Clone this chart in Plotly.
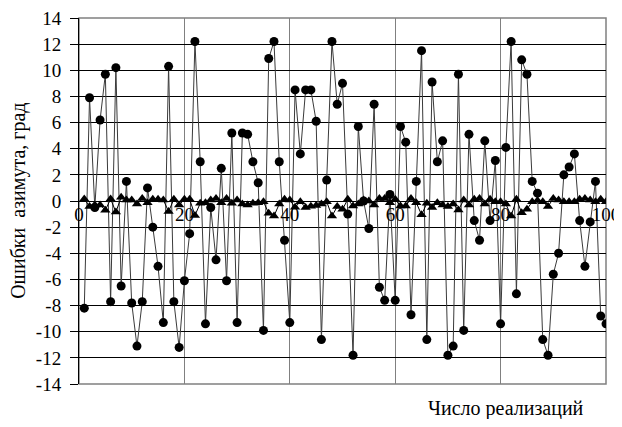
import plotly.graph_objects as go

realizations = list(range(1, 101))

errors_circle = [
    -8.2, 7.9, -0.5, 6.2, 9.7, -7.7, 10.2, -6.5, 1.5, -7.8,
    -11.1, -7.7, 1.0, -2.0, -5.0, -9.3, 10.3, -7.7, -11.2, -6.1,
    -2.5, 12.2, 3.0, -9.4, -0.5, -4.5, 2.5, -6.1, 5.2, -9.3,
    5.2, 5.1, 3.0, 1.4, -9.9, 10.9, 12.2, 3.0, -3.0, -9.3,
    8.5, 3.6, 8.5, 8.5, 6.1, -10.6, 1.6, 12.2, 7.4, 9.0,
    -1.0, -11.8, 5.7, 0.0, -2.1, 7.4, -6.6, -7.6, 0.5, -7.6,
    5.7, 4.5, -8.7, 1.5, 11.5, -10.6, 9.1, 3.0, 4.6, -11.8,
    -11.1, 9.7, -9.9, 5.1, -1.5, -3.0, 4.6, -1.5, 3.1, -9.4,
    4.1, 12.2, -7.1, 10.8, 9.7, 1.5, 0.6, -10.6, -11.8, -5.6,
    -4.0, 2.0, 2.6, 3.6, -1.5, -5.0, -1.6, 1.5, -8.8, -9.4,
]

errors_triangle = [
    0.15, -0.43, -0.3, -0.3, -0.7, 0.15, -0.84, 0.28, 0.08, 0.08,
    -0.23, 0.2, -0.13, 0.13, 0.13, 0.08, -0.8, 0.13, -0.3, 0.13,
    0.13, -1.1, -0.18, -0.13, 0.08, 0.2, -0.13, 0.2, -0.18, 0.08,
    -0.23, -0.3, -0.18, -0.13, -0.05, -0.94, -1.15, -0.23, 0.13, 0.08,
    -0.48, -0.05, -0.5, -0.4, -0.35, -0.23, -0.05, -1.15, -0.43, -0.64,
    0.13, -0.38, -0.23, 0.08, 0.0, -0.3, 0.2, 0.2, -0.13, 0.13,
    -0.38, -0.38, 0.2, -0.13, -1.05, -0.18, -0.5, -0.13, -0.3, -0.43,
    -0.23, -0.69, 0.08, -0.3, 0.13, 0.2, -0.23, 0.13, -0.05, -0.05,
    -0.23, -1.15, 0.13, -0.9, -0.64, -0.05, 0.03, -0.05, -0.43, 0.2,
    0.08, -0.05, -0.05, -0.05, 0.13, 0.2, 0.08, -0.05, 0.13, -0.05,
]

y_tickvals = list(range(-14, 15, 2))
y_ticktext = [str(v) for v in y_tickvals]
x_tickvals = [0, 20, 40, 60, 80, 100]
x_ticktext = [str(v) for v in x_tickvals]

y_title = "Ошибки\u00a0\u00a0азимута, град"
x_title = "Число реализаций"

FONT = "Liberation Serif, DejaVu Serif, serif"

fig = go.Figure()
fig.add_trace(go.Scatter(
    x=realizations, y=errors_circle, mode="lines+markers",
    line=dict(color="#3a3a3a", width=1),
    marker=dict(symbol="circle", size=9, color="black"),
    showlegend=False,
))
fig.add_trace(go.Scatter(
    x=realizations, y=errors_triangle, mode="lines+markers",
    line=dict(color="black", width=1),
    marker=dict(symbol="triangle-up", size=9, color="black"),
    showlegend=False,
))

# page body has an 8px margin: figure sized so the page does not overflow the window
fig.update_layout(
    width=614, height=411,
    margin=dict(l=71, r=16, t=10, b=35, autoexpand=False),
    paper_bgcolor="white", plot_bgcolor="white",
    font=dict(family=FONT, size=18, color="black"),
    xaxis=dict(
        range=[0, 100], tickvals=x_tickvals, ticktext=x_ticktext,
        showgrid=True, gridcolor="#808080", gridwidth=1,
        zeroline=False, showline=False, ticks="",
        anchor="free", position=0.5, automargin=False,
        ticklabeloverflow="allow",
        tickfont=dict(family=FONT, size=19, color="black"),
    ),
    yaxis=dict(
        range=[-14, 14], tickvals=y_tickvals, ticktext=y_ticktext,
        showgrid=True, gridcolor="black", gridwidth=1,
        zeroline=True, zerolinecolor="black", zerolinewidth=1,
        showline=True, linecolor="black", linewidth=1,
        ticks="outside", ticklen=8, tickcolor="black", automargin=False,
        ticklabeloverflow="allow", ticklabelstandoff=5,
        tickfont=dict(family=FONT, size=19, color="black"),
    ),
    shapes=[dict(type="rect", xref="paper", yref="paper", x0=0, y0=0, x1=1, y1=1,
                 line=dict(color="#808080", width=1.5), layer="below")],
    annotations=[
        dict(text=y_title, xref="paper", yref="paper", x=-0.116, y=0.50,
             textangle=-90, showarrow=False, xanchor="center", yanchor="middle",
             font=dict(family=FONT, size=20, color="black")),
        dict(text=x_title, xref="paper", yref="paper", x=0.81, y=-0.066,
             showarrow=False, xanchor="center", yanchor="middle",
             font=dict(family=FONT, size=20, color="black")),
    ],
)

fig.write_html("out.html")
